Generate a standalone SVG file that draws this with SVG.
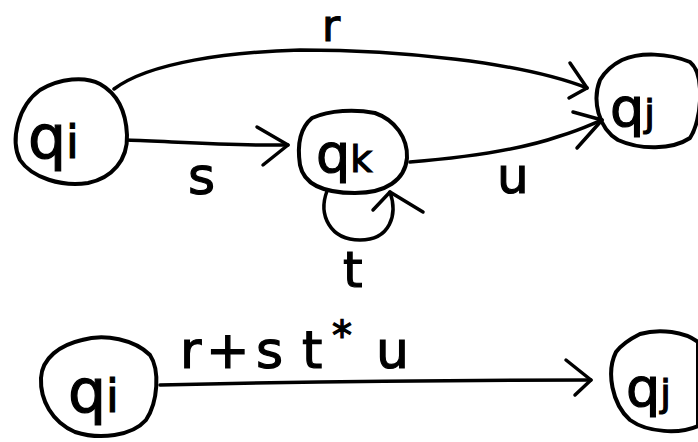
<svg xmlns="http://www.w3.org/2000/svg" width="698" height="442" viewBox="0 0 698 442">
<style>
.n{fill:none;stroke:#000;stroke-width:4;stroke-linecap:round;stroke-linejoin:round}
.c{fill:none;stroke:#000;stroke-width:3.5;stroke-linecap:round;stroke-linejoin:round}
.t{font-family:"DejaVu Sans",sans-serif;fill:#000;stroke:#000;stroke-width:1.2}
</style>
<rect width="698" height="442" fill="#fff"/>
<g id="qi_top">
<path class="n" d="M40,90 C60,78 85,76 100,84 C118,94 126,112 127,135 C128,160 112,178 88,183 C62,187 32,178 20,160 C10,140 18,106 40,90 Z"/>
<text class="t" x="28" y="158" font-size="60">q<tspan font-size="46">i</tspan></text>
</g>
<g id="qk">
<path class="n" d="M312,118 C330,110 355,109 375,113 C395,120 408,138 407,158 C405,180 386,193 355,193 C325,193 304,185 300,165 C297,145 300,128 312,118 Z"/>
<text class="t" x="316" y="172" font-size="54">q<tspan font-size="38">k</tspan></text>
</g>
<g id="qj_top">
<path class="n" d="M622,60 C640,52 668,53 690,62 C705,74 702,120 690,138 C672,150 640,150 618,140 C598,128 592,100 600,80 C606,70 614,64 622,60 Z"/>
<text class="t" x="610" y="126" font-size="54">q<tspan font-size="38">j</tspan></text>
</g>
<g id="qi_bottom">
<path class="n" d="M82,340 C105,333 135,340 150,355 C160,370 158,402 146,420 C132,436 100,440 75,432 C52,422 40,400 41,378 C42,358 60,345 82,340 Z"/>
<text class="t" x="68" y="412" font-size="60">q<tspan font-size="46">i</tspan></text>
</g>
<g id="qj_bottom">
<path class="n" d="M640,334 C660,328 685,332 698,342 L698,426 C680,434 648,433 630,420 C612,404 606,372 616,352 C622,344 632,338 640,334 Z"/>
<text class="t" x="626" y="406" font-size="54">q<tspan font-size="38">j</tspan></text>
</g>
<g id="connectors">
<path class="c" d="M114,89 C150,62 230,52 300,50 C400,50 520,62 587,88"/>
<path class="c" d="M570,63 L587,88 L569,98"/>
<path class="c" d="M127,140 C180,142 240,146 288,145"/>
<path class="c" d="M257,127 L288,145 L263,165"/>
<path class="c" d="M410,162 C460,158 520,150 560,136 C580,130 592,124 602,120"/>
<path class="c" d="M573,112 L602,120 L577,148"/>
<path class="c" d="M327,191 C318,215 330,240 360,240 C390,240 398,215 390,192"/>
<path class="c" d="M373,210 L390,192 L423,212"/>
<path class="c" d="M160,385 C250,383 400,380 591,380"/>
<path class="c" d="M566,360 L591,380 L575,395"/>
</g>
<g id="labels">
<text class="t" x="322" y="41" font-size="44">r</text>
<text class="t" x="188" y="194" font-size="52">s</text>
<text class="t" x="497" y="193" font-size="50">u</text>
<text class="t" x="343" y="287" font-size="50">t</text>
<text class="t" font-size="52" y="368"><tspan x="180">r</tspan><tspan x="206">+</tspan><tspan x="256">s</tspan><tspan x="302">t</tspan><tspan x="332" y="350" font-size="40">*</tspan><tspan x="376" y="368">u</tspan></text>
</g>
</svg>
